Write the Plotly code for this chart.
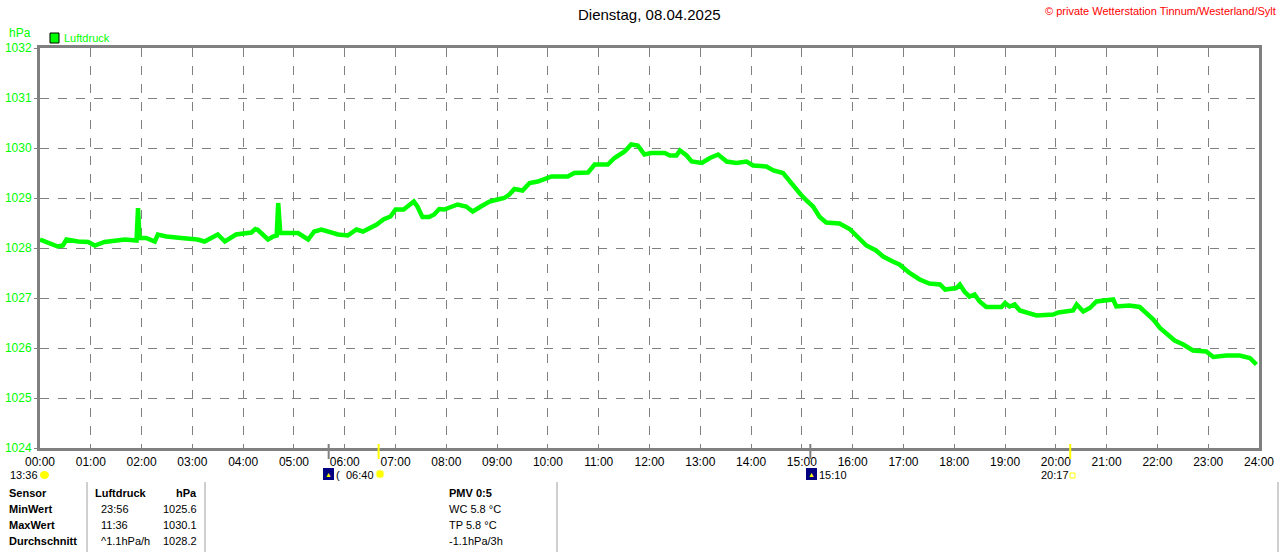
import plotly.graph_objects as go

# Luftdruck readings (hour of day, hPa)
hours = [0.00, 0.16, 0.22, 0.35, 0.45, 0.52, 0.75, 0.95, 1.08, 1.27, 1.67, 1.90, 1.93, 1.96,
         2.09, 2.26, 2.32, 2.49, 2.78, 3.10, 3.24, 3.50, 3.64, 3.86, 4.16, 4.24, 4.29, 4.49,
         4.59, 4.66, 4.69, 4.73, 4.82, 5.08, 5.28, 5.40, 5.54, 5.70, 5.87, 6.06, 6.23, 6.36,
         6.50, 6.63, 6.76, 6.90, 7.00, 7.16, 7.26, 7.36, 7.43, 7.53, 7.66, 7.76, 7.86, 7.96,
         8.09, 8.22, 8.39, 8.52, 8.68, 8.85, 9.01, 9.14, 9.24, 9.34, 9.50, 9.64, 9.80, 9.93,
         10.07, 10.39, 10.52, 10.79, 10.92, 11.18, 11.31, 11.51, 11.64, 11.77, 11.90, 12.03,
         12.30, 12.40, 12.53, 12.60, 12.73, 12.83, 13.03, 13.19, 13.35, 13.52, 13.71, 13.91,
         14.04, 14.30, 14.44, 14.63, 14.73, 14.83, 14.96, 15.09, 15.22, 15.35, 15.48, 15.74,
         15.94, 16.10, 16.27, 16.46, 16.60, 16.79, 16.92, 17.12, 17.32, 17.51, 17.72, 17.82,
         17.95, 18.04, 18.11, 18.20, 18.30, 18.40, 18.50, 18.63, 18.93, 19.00, 19.09, 19.19,
         19.29, 19.42, 19.62, 19.95, 20.05, 20.34, 20.41, 20.54, 20.67, 20.80, 21.00, 21.13,
         21.19, 21.45, 21.65, 21.78, 21.92, 22.05, 22.21, 22.34, 22.51, 22.70, 22.96, 23.10,
         23.36, 23.62, 23.82, 23.95]
pressure = [1028.17, 1028.10, 1028.07, 1028.03, 1028.05, 1028.17, 1028.13, 1028.12, 1028.05, 1028.12,
            1028.17, 1028.15, 1028.80, 1028.20, 1028.20, 1028.13, 1028.27, 1028.23, 1028.20, 1028.17,
            1028.13, 1028.27, 1028.13, 1028.27, 1028.31, 1028.38, 1028.36, 1028.17, 1028.23, 1028.25,
            1028.90, 1028.30, 1028.30, 1028.30, 1028.17, 1028.33, 1028.37, 1028.32, 1028.27, 1028.25,
            1028.37, 1028.33, 1028.40, 1028.47, 1028.57, 1028.63, 1028.77, 1028.77, 1028.85, 1028.93,
            1028.83, 1028.62, 1028.62, 1028.67, 1028.78, 1028.77, 1028.82, 1028.87, 1028.83, 1028.73,
            1028.83, 1028.93, 1028.97, 1029.00, 1029.07, 1029.18, 1029.15, 1029.30, 1029.33, 1029.38,
            1029.43, 1029.43, 1029.50, 1029.51, 1029.67, 1029.67, 1029.80, 1029.93, 1030.07, 1030.05,
            1029.87, 1029.90, 1029.90, 1029.85, 1029.85, 1029.95, 1029.85, 1029.73, 1029.70, 1029.80,
            1029.87, 1029.73, 1029.70, 1029.73, 1029.65, 1029.63, 1029.55, 1029.50, 1029.37, 1029.23,
            1029.09, 1028.95, 1028.83, 1028.62, 1028.51, 1028.49, 1028.38, 1028.22, 1028.05, 1027.95,
            1027.83, 1027.73, 1027.67, 1027.50, 1027.37, 1027.29, 1027.27, 1027.17, 1027.20, 1027.20,
            1027.27, 1027.13, 1027.03, 1027.07, 1026.93, 1026.82, 1026.82, 1026.90, 1026.83, 1026.87,
            1026.75, 1026.71, 1026.65, 1026.67, 1026.71, 1026.75, 1026.87, 1026.73, 1026.80, 1026.93,
            1026.95, 1026.97, 1026.83, 1026.85, 1026.82, 1026.70, 1026.57, 1026.40, 1026.27, 1026.15,
            1026.07, 1025.95, 1025.93, 1025.82, 1025.85, 1025.85, 1025.80, 1025.67]

hour_labels = ["%02d:00" % h for h in range(25)]
y_ticks = [1024, 1025, 1026, 1027, 1028, 1029, 1030, 1031, 1032]

# astro events below the axis (hours)
moon_rise, sun_rise, moon_set, sun_set = 5 + 41 / 60, 6 + 40 / 60, 15 + 10 / 60, 20 + 17 / 60

# table under the chart
row_names = ["Sensor", "MinWert", "MaxWert", "Durchschnitt"]
col_times = ["Luftdruck", "23:56", "11:36", "^1.1hPa/h"]
col_values = ["hPa", "1025.6", "1030.1", "1028.2"]
col_pmv = ["PMV 0:5", "WC 5.8 °C", "TP 5.8 °C", "-1.1hPa/3h"]

FONT = "Liberation Sans, Arial, sans-serif"
GREEN = "#00ff00"
GREY = "#808080"
W, H = 1280, 552
L, R, T, B = 40, 1259, 48, 448


def px(x):
    return (x - L) / (R - L)


def py(y):
    return (B - y) / (B - T)


fig = go.Figure()
fig.add_trace(go.Scatter(
    x=hours, y=pressure, mode="lines",
    line=dict(color=GREEN, width=4.5), showlegend=False, hoverinfo="skip"))

fig.update_layout(
    width=W, height=H, margin=dict(l=L, r=W - R, t=T, b=H - B),
    paper_bgcolor="white", plot_bgcolor="white",
    font=dict(family=FONT, size=12, color="black"),
    showlegend=False,
)
fig.update_xaxes(
    range=[0, 24], tickvals=list(range(25)), ticktext=hour_labels, automargin=False,
    showgrid=True, gridcolor=GREY, griddash="dash", gridwidth=1,
    showline=True, linecolor=GREY, linewidth=3, mirror=True,
    ticks="", tickfont=dict(size=12, color="black"), ticklabelstandoff=1, zeroline=False)
fig.update_yaxes(
    range=[1024, 1032], tickvals=y_ticks, ticktext=[str(v) for v in y_ticks], automargin=False,
    showgrid=True, gridcolor=GREY, griddash="dash", gridwidth=1,
    showline=True, linecolor=GREY, linewidth=3, mirror=True,
    ticks="outside", ticklen=3, tickcolor=GREY, tickwidth=1,
    tickfont=dict(size=12, color=GREEN), zeroline=False)

ann = []
shapes = []


def text(x, y, s, size=12, color="black", anchor="left", bold=False):
    ann.append(dict(x=x, y=y, xref="paper", yref="paper", text="<b>%s</b>" % s if bold else s,
                    showarrow=False, xanchor=anchor, yanchor="middle", borderpad=0,
                    font=dict(size=size, color=color, family=FONT)))


text(0.5, py(15), "Dienstag, 08.04.2025", size=15, anchor="center")
text(px(1277), py(11), "© private Wetterstation Tinnum/Westerland/Sylt", size=11, color="red", anchor="right")
text(px(8), py(33), "hPa", size=12, color=GREEN)
text(px(63), py(38), "Luftdruck", size=11, color=GREEN)
shapes.append(dict(type="rect", xref="paper", yref="paper", x0=px(50), x1=px(59), y0=py(43), y1=py(33),
                   fillcolor=GREEN, line=dict(color="black", width=1)))

# astro ticks on the axis
for t, c in [(moon_rise, GREY), (sun_rise, "yellow"), (moon_set, GREY), (sun_set, "yellow")]:
    shapes.append(dict(type="line", xref="x", yref="paper", x0=t, x1=t, y0=py(459), y1=py(444),
                       line=dict(color=c, width=2)))

ROW = 475
text(px(9), py(ROW), "13:36", size=11)
shapes.append(dict(type="circle", xref="paper", yref="paper", x0=px(40), x1=px(49), y0=py(479), y1=py(471),
                   fillcolor="yellow", line=dict(color="yellow", width=0)))
# moon icons
for x0 in (323, 806):
    shapes.append(dict(type="rect", xref="paper", yref="paper", x0=px(x0), x1=px(x0 + 11), y0=py(480), y1=py(468),
                       fillcolor="#000080", line=dict(width=0)))
    text(px(x0 + 5.5), py(ROW - 1), "▲", size=7, color="yellow", anchor="center")
text(px(335), py(ROW), "(", size=11)
text(px(345), py(ROW), "06:40", size=11)
shapes.append(dict(type="circle", xref="paper", yref="paper", x0=px(376), x1=px(384), y0=py(478), y1=py(470),
                   fillcolor="yellow", line=dict(color="#ffff80", width=1)))
text(px(818), py(ROW), "15:10", size=11)
text(px(1040), py(ROW), "20:17", size=11)
shapes.append(dict(type="rect", xref="paper", yref="paper", x0=px(1070), x1=px(1075), y0=py(478), y1=py(473),
                   fillcolor="white", line=dict(color="yellow", width=1)))

# table
row_y = [493, 509, 525, 541]
for i, yy in enumerate(row_y):
    text(px(8), py(yy), row_names[i], bold=True, size=11)
    text(px(94 if i == 0 else 100), py(yy), col_times[i], bold=(i == 0), size=11)
    text(px(198), py(yy), col_values[i], bold=(i == 0), size=11, anchor="right")
    text(px(448), py(yy), col_pmv[i], bold=(i == 0), size=11)
for xs in (87, 205, 557, 1278):
    shapes.append(dict(type="line", xref="paper", yref="paper", x0=px(xs), x1=px(xs), y0=py(482), y1=py(552),
                       line=dict(color="#a0a0a0", width=1)))

fig.update_layout(annotations=ann, shapes=shapes)
fig.write_html("out.html", config={"displayModeBar": False},
               post_script="document.body.style.margin='0';document.body.style.padding='0';")
